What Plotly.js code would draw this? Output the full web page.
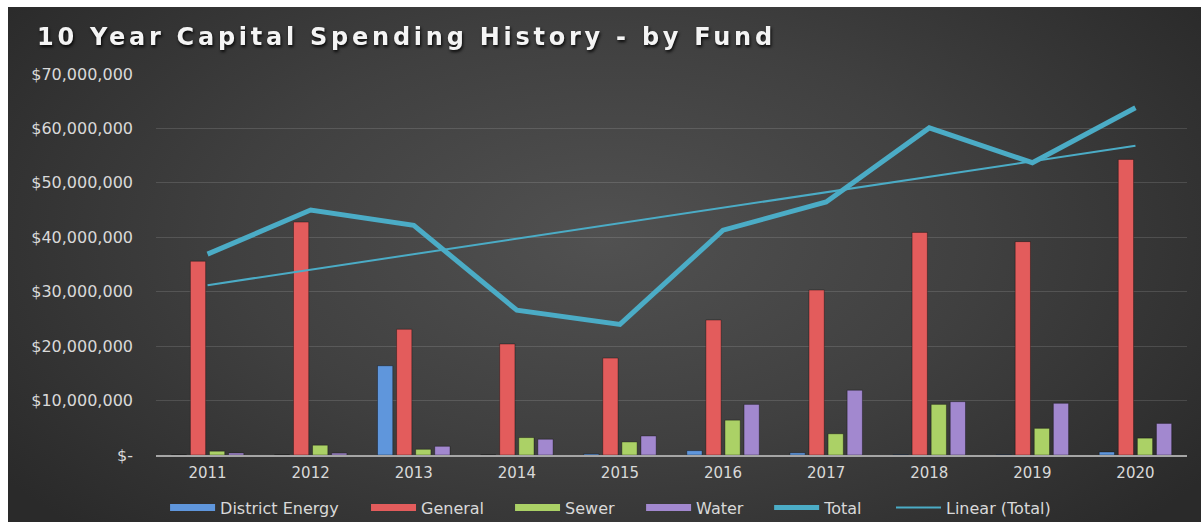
<!DOCTYPE html>
<html>
<head>
<meta charset="utf-8">
<script src="https://cdn.plot.ly/plotly-3.0.1.min.js"></script>
<style>
  html, body { margin: 0; padding: 0; background: #ffffff; width: 1201px; height: 522px; overflow: hidden; }
  #chart {
    position: absolute; left: 8px; top: 7px; width: 1193px; height: 515px;
    background: radial-gradient(ellipse 62% 80% at 50% 45%, #515151 0%, #404040 50%, #2a2a2a 100%);
  }
  #chart .gtitle { letter-spacing: 3.75px; filter: drop-shadow(1px 2px 1.5px rgba(0,0,0,0.85)); }
</style>
</head>
<body>
<div id="chart"></div>
<script>
// ---- data ----
const years = ["2011","2012","2013","2014","2015","2016","2017","2018","2019","2020"];
const districtEnergy = [0, 0, 16.4, 0, 0.2, 0.8, 0.4, 0.05, 0.05, 0.55];   // $ millions
const general        = [35.6, 42.8, 23.1, 20.4, 17.8, 24.8, 30.3, 40.9, 39.2, 54.3];
const sewer          = [0.7, 1.8, 1.05, 3.2, 2.4, 6.4, 3.9, 9.3, 4.9, 3.1];
const water          = [0.37, 0.35, 1.6, 2.9, 3.5, 9.3, 11.9, 9.8, 9.5, 5.8];
const total          = [36.9, 45.0, 42.2, 26.6, 24.0, 41.3, 46.5, 60.1, 53.7, 63.8];
const yTickVals  = [0, 10, 20, 30, 40, 50, 60, 70];
const yTickText  = ["$-", "$10,000,000", "$20,000,000", "$30,000,000", "$40,000,000", "$50,000,000", "$60,000,000", "$70,000,000"];
const seriesNames = ["District Energy", "General", "Sewer", "Water", "Total", "Linear (Total)"];

const M = 1e6;
const toDollars = a => a.map(v => v * M);

// Linear (Total): least-squares trend of the total series
const n = total.length;
const xs = total.map((_, i) => i);
const mx = xs.reduce((a, b) => a + b, 0) / n;
const my = total.reduce((a, b) => a + b, 0) / n;
let sxy = 0, sxx = 0;
for (let i = 0; i < n; i++) { sxy += (xs[i] - mx) * (total[i] - my); sxx += (xs[i] - mx) ** 2; }
const slope = sxy / sxx, intercept = my - slope * mx;
const trend = xs.map(x => intercept + slope * x);

const colors = { de: "#5f96dc", gen: "#e35c5c", sew: "#abd166", wat: "#a288cf", tot: "#4bacc6" };

function barTrace(name, vals, color) {
  return { type: "bar", name, x: years, y: toDollars(vals), showlegend: false,
    marker: { color, line: { color: "rgba(0,0,0,0.35)", width: 1 } } };
}
function legendOnly(name, color, legendId, width) {
  return { type: "scatter", mode: "lines", name, x: [null], y: [null], legend: legendId,
    line: { color, width } };
}

const data = [
  barTrace(seriesNames[0], districtEnergy, colors.de),
  barTrace(seriesNames[1], general, colors.gen),
  barTrace(seriesNames[2], sewer, colors.sew),
  barTrace(seriesNames[3], water, colors.wat),
  legendOnly(seriesNames[0], colors.de, "legend", 7),
  legendOnly(seriesNames[1], colors.gen, "legend2", 7),
  legendOnly(seriesNames[2], colors.sew, "legend3", 7),
  legendOnly(seriesNames[3], colors.wat, "legend4", 7),
  { type: "scatter", mode: "lines", name: seriesNames[4], x: years, y: toDollars(total),
    legend: "legend5", line: { color: colors.tot, width: 5 } },
  { type: "scatter", mode: "lines", name: seriesNames[5], x: years, y: toDollars(trend),
    legend: "legend6", line: { color: colors.tot, width: 2 } }
];

// legend boxes placed along the bottom row (paper x of each box's left edge)
const legendX = [0.0088, 0.2037, 0.3434, 0.4705, 0.5947, 0.7129];
function legendBox(x) {
  return { orientation: "h", x, xanchor: "left", y: -0.138, yanchor: "middle",
    bgcolor: "rgba(0,0,0,0)", itemwidth: 45,
    font: { family: "DejaVu Sans", size: 16, color: "#d9d9d9" } };
}

const layout = {
  width: 1193, height: 515,
  paper_bgcolor: "rgba(0,0,0,0)", plot_bgcolor: "rgba(0,0,0,0)",
  margin: { l: 148, r: 14, t: 66.5, b: 67, pad: 0, autoexpand: false },
  font: { family: "DejaVu Sans", color: "#d9d9d9" },
  title: {
    text: "10 Year Capital Spending History - by Fund",
    xref: "container", x: 29 / 1193, xanchor: "left",
    yref: "container", y: 1 - 30 / 515, yanchor: "middle",
    font: { family: "DejaVu Sans", size: 24, color: "#f4f4f4", weight: "bold" }
  },
  barmode: "group", bargap: 0.26, bargroupgap: 0.2,
  xaxis: {
    type: "category", showgrid: false, zeroline: false,
    showline: true, linecolor: "#a6a6a6", linewidth: 1.5,
    ticks: "", ticklabelstandoff: 3,
    tickfont: { family: "DejaVu Sans", size: 15, color: "#d9d9d9" }
  },
  yaxis: {
    range: [0, 70 * M], tickvals: yTickVals.map(v => v * M), ticktext: yTickText,
    showgrid: true, gridcolor: "rgba(255,255,255,0.13)", gridwidth: 1,
    zeroline: false, showline: false, ticks: "", ticklabelstandoff: 22,
    tickfont: { family: "DejaVu Sans", size: 16, color: "#d9d9d9" }
  },
  legend: legendBox(legendX[0]),
  legend2: legendBox(legendX[1]),
  legend3: legendBox(legendX[2]),
  legend4: legendBox(legendX[3]),
  legend5: legendBox(legendX[4]),
  legend6: legendBox(legendX[5]),
  showlegend: true
};

Plotly.newPlot("chart", data, layout, { displayModeBar: false, staticPlot: true });
</script>
</body>
</html>
